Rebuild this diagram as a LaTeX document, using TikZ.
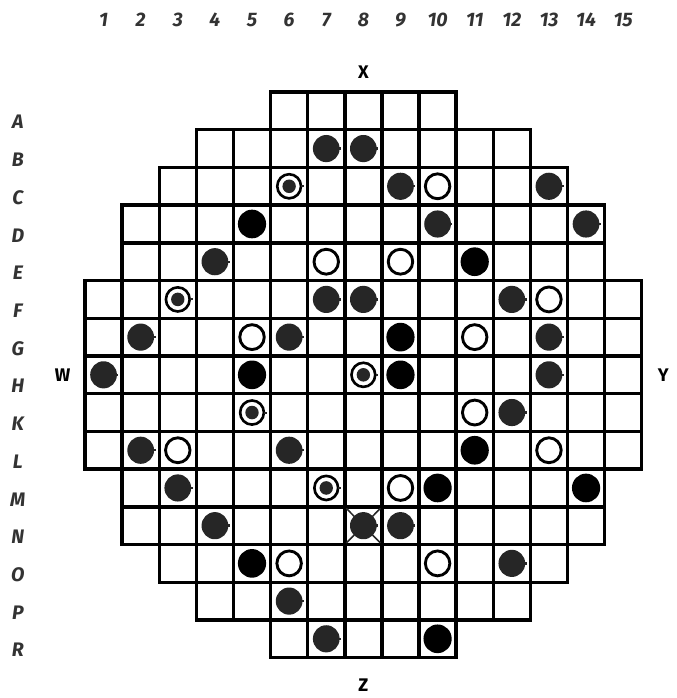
\documentclass[tikz,border=0pt]{standalone}
\usepackage{fontspec}
\setmainfont{Fira Sans}
\definecolor{rod}{RGB}{38, 38, 38}

\begin{document}
\begin{tikzpicture}[x=1cm, y=1.016cm,
    cell/.style={line width=2.6pt},
    label/.style={font=\fontsize{15}{18}\selectfont\bfseries\itshape, text=black!80},
    side/.style={font=\fontsize{14}{16}\selectfont\bfseries},
    darkrod/.style={fill=rod},
    blackrod/.style={fill=black},
    openrod/.style={draw=black, line width=2.2pt, fill=white},
    ringrod/.style={draw=black, line width=2pt, fill=white}]
  \useasboundingbox (-1.79, -16.57) rectangle (16.43, 1.94);

  % core lattice: row / first column / last column
  \foreach \r/\a/\b in {1/6/10, 2/4/12, 3/3/13, 4/2/14, 5/2/14, 6/1/15, 7/1/15,
      8/1/15, 9/1/15, 10/1/15, 11/2/14, 12/2/14, 13/3/13, 14/4/12, 15/6/10}
    \foreach \c in {\a,...,\b}
      \draw[cell] (\c-0.5, -\r+0.5) rectangle ++(1, -1);

  % column numbers and row letters
  \foreach \c in {1,...,15}
    \node[label] (col\c) at (\c, 1.41) {\c};
  \foreach \l [count=\r] in {A,B,C,D,E,F,G,H,K,L,M,N,O,P,R}
    \node[label] (row\l) at (-1.31, -\r-0.3) {\l};

  \node[side] (X) at (8, 0.03) {X};
  \node[side] (W) at (-0.1, -8) {W};
  \node[side] (Y) at (16.08, -8) {Y};
  \node[side] (Z) at (8, -16.23) {Z};

  % dark rods
  \foreach \c/\r in {7/2, 8/2, 9/3, 13/3, 10/4, 14/4, 4/5, 7/6, 8/6, 12/6, 2/7, 6/7,
      13/7, 1/8, 13/8, 12/9, 2/10, 6/10, 3/11, 4/12, 8/12, 9/12, 12/13, 6/14, 7/15} {
    \fill[darkrod] (\c, -\r) circle (0.36);
    \draw[rod, line width=1.8pt] (\c+0.3, -\r) -- (\c+0.4, -\r);
  }

  % crossed rod
  \foreach \dx/\dy in {1/1, 1/-1, -1/1, -1/-1}
    \draw[rod, line width=1.2pt] (8+0.46*\dx, -12+0.46*\dy) -- (8+0.25*\dx, -12+0.25*\dy);

  % black rods
  \foreach \c/\r in {5/4, 11/5, 9/7, 5/8, 9/8, 11/10, 10/11, 14/11, 5/13, 10/15}
    \fill[blackrod] (\c, -\r) circle (0.38);

  % open positions
  \foreach \c/\r in {10/3, 7/5, 9/5, 13/6, 5/7, 11/7, 11/9, 3/10, 13/10, 9/11, 6/13, 10/13}
    \filldraw[openrod] (\c, -\r) circle (0.33);

  % ringed rods
  \foreach \c/\r in {6/3, 3/6, 8/8, 5/9, 7/11} {
    \filldraw[ringrod] (\c, -\r) circle (0.32);
    \fill[darkrod] (\c, -\r) circle (0.18);
    \draw[rod, line width=1.6pt] (\c+0.33, -\r) -- (\c+0.4, -\r);
  }

\end{tikzpicture}
\end{document}
